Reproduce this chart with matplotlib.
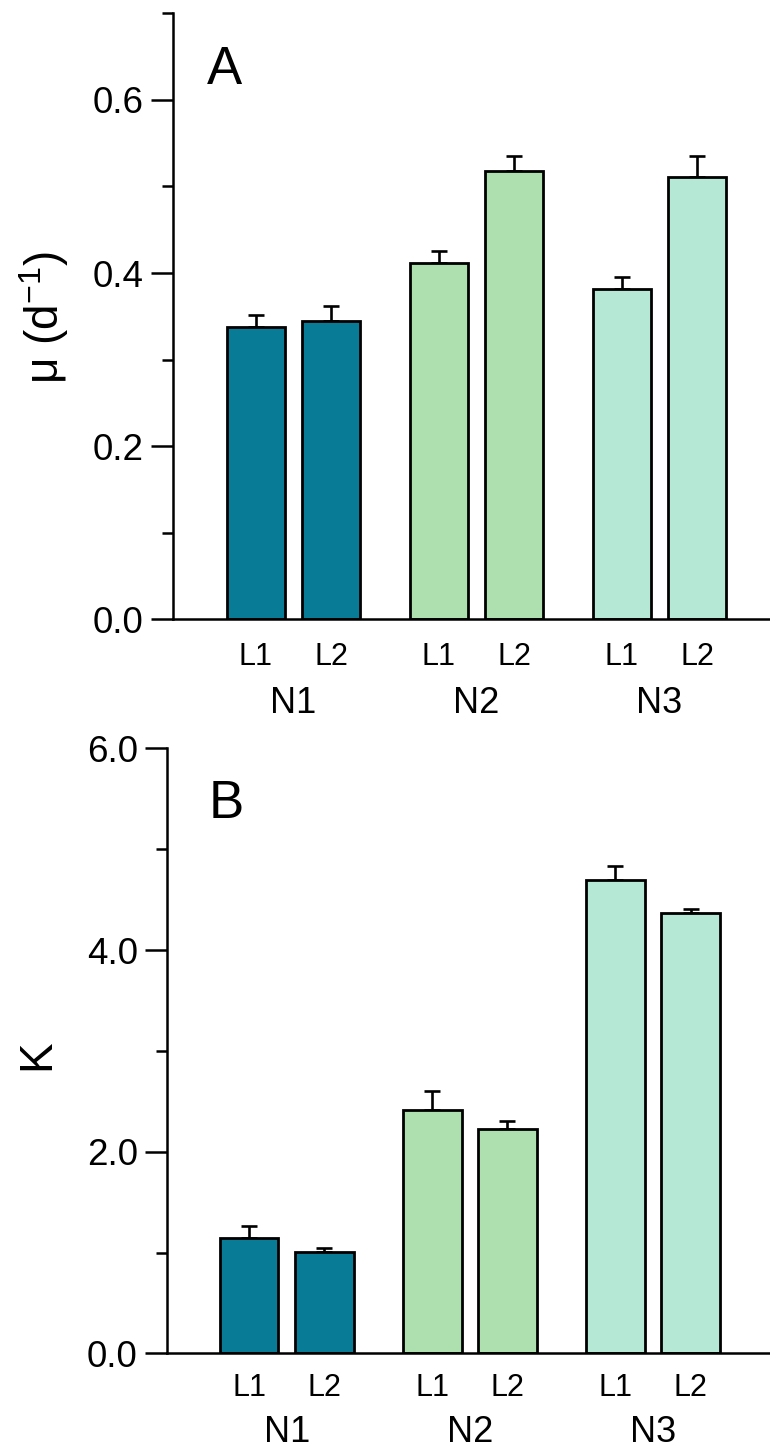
import matplotlib
matplotlib.use("Agg")
import matplotlib.pyplot as plt
from matplotlib.ticker import MultipleLocator, FormatStrFormatter
import numpy as np

plt.rcParams['font.family'] = ['Liberation Sans', 'DejaVu Sans']
plt.rcParams['mathtext.fontset'] = 'custom'
plt.rcParams['mathtext.rm'] = 'Liberation Sans'
plt.rcParams['mathtext.it'] = 'Liberation Sans:italic'

# ---- data ----
groups = ["N1", "N2", "N3"]
levels = ["L1", "L2"]
colors = ["#087C96", "#AEDFAE", "#B5E9D5"]

mu_L1 = [0.338, 0.411, 0.381]
mu_L2 = [0.345, 0.518, 0.511]
mu_err_L1 = [0.013, 0.014, 0.014]
mu_err_L2 = [0.017, 0.017, 0.024]

K_L1 = [1.14, 2.41, 4.69]
K_L2 = [1.01, 2.23, 4.37]
K_err_L1 = [0.12, 0.19, 0.14]
K_err_L2 = [0.04, 0.075, 0.035]

W, H = 770, 1454
fig = plt.figure(figsize=(W / 100, H / 100), dpi=100)


def px_axes(left, top, right, bottom):
    return fig.add_axes([left / W, 1 - bottom / H, (right - left) / W, (bottom - top) / H])


def draw_panel(ax, v1, v2, e1, e2, ylim, major, minor, fmt, xlim, lab_pad, n_off):
    off = 0.205
    width = 0.32
    x = np.arange(len(groups))
    for i in range(len(groups)):
        for xv, v, e in ((x[i] - off, v1[i], e1[i]), (x[i] + off, v2[i], e2[i])):
            ax.bar(xv, v, width=width, color=colors[i], edgecolor="black",
                   linewidth=2.0, zorder=2)
            ax.errorbar(xv, v, yerr=[[0], [e]], fmt="none", ecolor="black",
                        elinewidth=1.9, capsize=5.6, capthick=1.9, zorder=1)
    ax.set_ylim(*ylim)
    ax.set_xlim(*xlim)
    ax.yaxis.set_major_locator(MultipleLocator(major))
    ax.yaxis.set_minor_locator(MultipleLocator(minor))
    ax.yaxis.set_major_formatter(FormatStrFormatter(fmt))
    ax.tick_params(axis="y", which="major", length=16, width=1.8, labelsize=26.5, pad=5)
    ax.tick_params(axis="y", which="minor", length=8, width=1.8)
    ticks = []
    labels = []
    for i in range(len(groups)):
        ticks += [x[i] - off, x[i] + off]
        labels += levels
    ax.set_xticks(ticks, labels)
    ax.tick_params(axis="x", length=0, labelsize=22, pad=lab_pad)
    for s in ("top", "right"):
        ax.spines[s].set_visible(False)
    for s in ("left", "bottom"):
        ax.spines[s].set_linewidth(1.8)
    for i, g in enumerate(groups):
        ax.annotate(g, xy=(x[i], 0), xycoords=("data", "axes fraction"),
                    xytext=(0, -n_off), textcoords="offset points",
                    ha="center", va="baseline", fontsize=26)


# Panel A
axA = px_axes(173, 13.3, 770, 619.3)
draw_panel(axA, mu_L1, mu_L2, mu_err_L1, mu_err_L2, (0, 0.7), 0.2, 0.1, "%.1f",
           (-0.6585, 2.604), 16, 67.5)
fig.text(207 / W, 1 - 84 / H, "A", fontsize=38, ha="left", va="baseline")
fig.text(44 / W, 1 - 318 / H, "μ (d$^{\\mathregular{-1}}$)", fontsize=33,
         rotation=90, ha="center", va="center")

# Panel B
axB = px_axes(167, 748.3, 770, 1353.4)
draw_panel(axB, K_L1, K_L2, K_err_L1, K_err_L2, (0, 6.0), 2.0, 1.0, "%.1f",
           (-0.6536, 2.639), 14, 64)
fig.text(209 / W, 1 - 818 / H, "B", fontsize=38, ha="left", va="baseline")
fig.text(37 / W, 1 - 1055 / H, "K", fontsize=33, rotation=90, ha="center", va="center")

fig.savefig("out.png", dpi=100)
